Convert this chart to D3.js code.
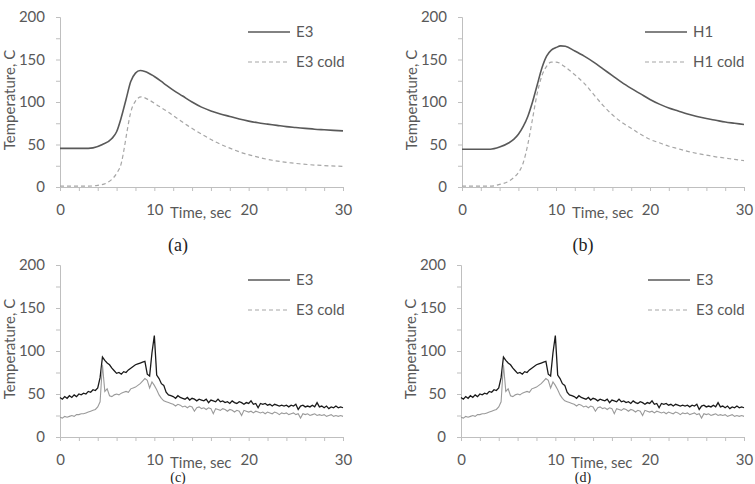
<!DOCTYPE html>
<html>
<head>
<meta charset="utf-8">
<script src="https://d3js.org/d3.v7.min.js"></script>
<style>
  body { margin: 0; background: #fff; }
  text { font-family: Lato, "Open Sans", sans-serif; }
</style>
</head>
<body>
<script>
  // ---- data ----
  // panel (a): E3 vs E3 cold (smooth)
  var timeA = [0, 3, 3.5, 4.5, 5.5, 6, 6.5, 7, 7.5, 8, 8.5, 9, 10, 11, 12, 13, 14, 15, 16, 17, 18, 19, 20, 21, 22, 23, 24, 25, 26, 27, 28, 29, 30];
  var e3A = [45.5, 45.5, 46, 50, 57, 65, 82, 103, 124, 134, 137, 136, 130, 122, 114, 107, 100, 94, 89.5, 86, 83, 80, 77.5, 75.5, 74, 72.5, 71, 70, 69, 68, 67.3, 66.6, 66];
  var timeAcold = [0, 3, 4, 5, 5.5, 6, 6.5, 6.8, 7.1, 7.5, 8, 8.6, 9.5, 10.5, 11.5, 12.5, 13.5, 14.5, 15.5, 16.5, 17.5, 18.5, 19.5, 20.5, 21.5, 22.5, 23.5, 24.5, 25.5, 26.5, 28, 30];
  var e3coldA = [1, 1, 2, 5, 9, 16, 28, 45, 65, 88, 101, 106, 102, 95, 88, 80, 72.5, 65.5, 59, 53, 48, 43.5, 39.5, 36.5, 33.7, 31.5, 29.8, 28.3, 27.2, 26.2, 25.2, 24.3];

  // panel (b): H1 vs H1 cold (smooth)
  var timeB = [0, 3, 4, 5, 5.5, 6, 6.5, 7, 7.5, 8, 8.5, 9, 9.5, 10, 10.5, 11, 12, 13, 14, 15, 16, 17, 18, 19, 20, 21, 22, 23, 24, 25, 26, 27, 28, 29, 30];
  var h1B = [44.5, 44.5, 47, 52, 56, 62, 71, 83, 100, 120, 140, 154, 161, 164, 166, 165.5, 160, 154, 147, 139, 131, 123, 116, 109.5, 103, 97.5, 93, 89.5, 86, 83, 80.5, 78.5, 76.5, 75, 73.5];
  var timeBcold = [0, 3, 4, 5, 5.5, 6, 6.5, 7, 7.5, 8, 8.5, 9, 9.5, 10, 11, 12, 13, 14, 15, 16, 17, 18, 19, 20, 21, 22, 23, 24, 25, 26, 27, 28, 29, 30];
  var h1coldB = [1, 1, 3, 7, 11, 17, 28, 50, 80, 110, 131, 142, 147, 147, 141, 132, 122, 109, 96, 85, 76, 69, 62, 56, 52, 48, 45, 42, 39.5, 37.5, 35.5, 34, 32.5, 31];

  // panels (c) and (d): noisy E3 vs E3 cold, sampled every 0.25 s
  var timeC = d3.range(0, 30.001, 0.25);
  var e3C = [46, 44, 47, 45, 48, 46, 49, 47, 50, 49, 51, 50, 53, 52, 55, 54,
    57, 69, 93, 89, 86, 84, 80, 77, 74, 75, 73, 76, 75, 78, 80, 82,
    84, 85, 86, 87, 88, 73, 71, 98, 118, 72, 68, 62, 60, 52, 49, 48,
    47, 45, 48, 46, 45, 44, 46, 43, 45, 44, 42, 44, 43, 42, 44, 40,
    43, 42, 41, 44, 41, 42, 40, 41, 39, 42, 40, 39, 41, 40, 38, 40,
    39, 42, 38, 39, 34, 39, 38, 39, 37, 38, 36, 38, 37, 36, 37, 36,
    37, 35, 37, 36, 38, 32, 36, 37, 35, 36, 35, 37, 35, 40, 35, 36,
    34, 36, 33, 35, 34, 36, 34, 35, 34];
  var e3coldC = [23, 22, 24, 23, 24, 25, 24, 26, 26, 27, 27, 28, 29, 30, 31, 32,
    35, 41, 84, 53, 56, 48, 47, 49, 50, 49, 51, 52, 53, 52, 56, 57,
    58, 60, 62, 65, 68, 66, 57, 64, 60, 55, 49, 45, 42, 41, 40, 39,
    38, 36, 38, 37, 35, 36, 34, 36, 35, 30, 34, 35, 33, 34, 32, 34,
    33, 27, 33, 32, 31, 33, 32, 30, 32, 31, 29, 31, 30, 25, 31, 30,
    29, 30, 28, 30, 29, 28, 29, 27, 29, 28, 27, 29, 28, 26, 28, 27,
    28, 26, 27, 28, 26, 27, 22, 27, 26, 27, 25, 26, 27, 25, 26, 25,
    26, 24, 25, 26, 24, 25, 24, 25, 24];

  var yTicks = [0, 50, 100, 150, 200];
  var xTicks = [0, 10, 20, 30];

  // ---- drawing ----
  var width = 755;
  var height = 484;

  var svg = d3.select("body").append("svg")
    .attr("width", width)
    .attr("height", height);

  var axisColor = "#bfbfbf";
  var labelColor = "#595959";

  function panel(opt) {
    var x = d3.scaleLinear().domain([0, 30]).range([opt.x0, opt.x1]);
    var y = d3.scaleLinear().domain([0, 200]).range([opt.y0, opt.y1]);
    var g = svg.append("g");

    // y axis, minor ticks every 25
    var yAxis = d3.axisLeft(y)
      .tickValues(d3.range(0, 201, 25))
      .tickSize(4)
      .tickPadding(11)
      .tickFormat(function(d) { return yTicks.indexOf(d) >= 0 ? d : ""; });
    var ya = g.append("g").attr("transform", "translate(" + opt.x0 + ",0)").call(yAxis);

    // x axis, ticks every 2 s
    var xAxis = d3.axisBottom(x)
      .tickValues(d3.range(0, 31, 2))
      .tickSize(4)
      .tickPadding(13)
      .tickFormat(function(d) { return xTicks.indexOf(d) >= 0 ? d : ""; });
    var xa = g.append("g").attr("transform", "translate(0," + opt.y0 + ")").call(xAxis);

    [ya, xa].forEach(function(a) {
      a.select(".domain").attr("stroke", axisColor);
      a.selectAll(".tick line").attr("stroke", axisColor);
      a.selectAll(".tick text")
        .attr("fill", labelColor)
        .style("font-size", "15px")
        .style("font-family", "Lato, sans-serif");
    });

    // axis titles
    g.append("text")
      .attr("x", opt.x0 + 110)
      .attr("y", opt.y0 + 31)
      .attr("fill", labelColor)
      .style("font-size", "15px")
      .text("Time, sec");

    g.append("text")
      .attr("transform", "translate(" + (opt.x0 - 45) + "," + ((opt.y0 + opt.y1) / 2 - 2) + ") rotate(-90)")
      .attr("text-anchor", "middle")
      .attr("fill", labelColor)
      .style("font-size", "15px")
      .text("Temperature, C");

    // lines
    opt.series.forEach(function(s) {
      var pts = s.t.map(function(t, i) { return [t, s.v[i]]; });
      var line = d3.line()
        .x(function(d) { return x(d[0]); })
        .y(function(d) { return y(d[1]); })
        .curve(s.smooth ? d3.curveMonotoneX : d3.curveLinear);
      g.append("path")
        .datum(pts)
        .attr("d", line)
        .attr("fill", "none")
        .attr("stroke", s.color)
        .attr("stroke-width", s.width)
        .attr("stroke-dasharray", s.dash || null);
    });

    // legend
    opt.series.forEach(function(s, i) {
      var ly = opt.y1 + 15 + i * 30;
      g.append("line")
        .attr("x1", opt.x0 + opt.legX)
        .attr("x2", opt.x0 + opt.legX + 42)
        .attr("y1", ly)
        .attr("y2", ly)
        .attr("stroke", s.legColor || s.color)
        .attr("stroke-width", s.legWidth || s.width)
        .attr("stroke-dasharray", s.legDash || s.dash || null);
      g.append("text")
        .attr("x", opt.x0 + opt.legX + 48)
        .attr("y", ly + 5)
        .attr("fill", labelColor)
        .style("font-size", "15px")
        .text(s.name);
    });

    // caption (bottom row captions sit at the picture's lower edge)
    svg.append("text")
      .attr("x", opt.capX)
      .attr("y", opt.capY)
      .attr("text-anchor", "middle")
      .attr("fill", "#222")
      .style("font-family", "'Liberation Serif', 'DejaVu Serif', serif")
      .style("font-size", opt.capSize + "px")
      .text(opt.caption);
  }

  panel({
    x0: 60, x1: 343, y0: 187, y1: 17, legX: 188, capX: 178, capY: 251, capSize: 18, caption: "(a)",
    series: [
      {name: "E3", t: timeA, v: e3A, color: "#595959", width: 1.6, smooth: true},
      {name: "E3 cold", t: timeAcold, v: e3coldA, color: "#a6a6a6", width: 1.2, dash: "4,3", smooth: true}
    ]
  });

  panel({
    x0: 462, x1: 744, y0: 187, y1: 17, legX: 183, capX: 583, capY: 251, capSize: 18, caption: "(b)",
    series: [
      {name: "H1", t: timeB, v: h1B, color: "#595959", width: 1.6, smooth: true},
      {name: "H1 cold", t: timeBcold, v: h1coldB, color: "#a6a6a6", width: 1.2, dash: "4,3", smooth: true}
    ]
  });

  panel({
    x0: 60, x1: 343, y0: 437, y1: 265, legX: 188, capX: 178, capY: 482, capSize: 14, caption: "(c)",
    series: [
      {name: "E3", t: timeC, v: e3C, color: "#1a1a1a", width: 1.3, legColor: "#595959", legWidth: 1.6},
      {name: "E3 cold", t: timeC, v: e3coldC, color: "#9a9a9a", width: 1.1, legColor: "#a6a6a6", legDash: "4,3"}
    ]
  });

  panel({
    x0: 461, x1: 744, y0: 437, y1: 265, legX: 187, capX: 583, capY: 482, capSize: 14, caption: "(d)",
    series: [
      {name: "E3", t: timeC, v: e3C, color: "#1a1a1a", width: 1.3, legColor: "#595959", legWidth: 1.6},
      {name: "E3 cold", t: timeC, v: e3coldC, color: "#9a9a9a", width: 1.1, legColor: "#a6a6a6", legDash: "4,3"}
    ]
  });
</script>
</body>
</html>
